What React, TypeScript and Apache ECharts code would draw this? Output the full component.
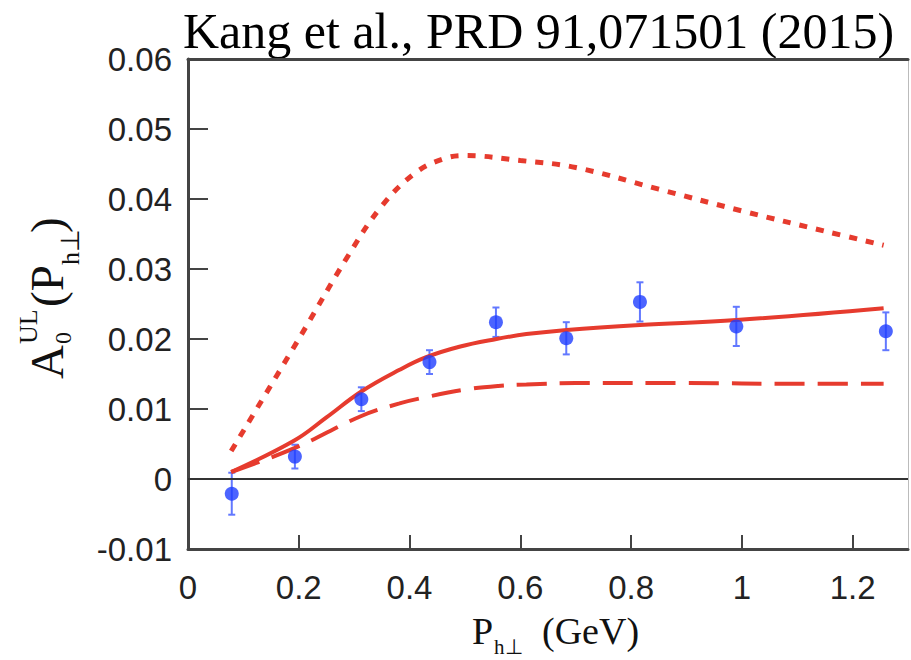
import React, { useEffect, useRef } from "react";
import * as echarts from "echarts";

const xTicks = [0, 0.2, 0.4, 0.6, 0.8, 1, 1.2];
const yTicks = [-0.01, 0, 0.01, 0.02, 0.03, 0.04, 0.05, 0.06];

// dotted theory curve
const dottedCurve: number[][] = [
  [0.078, 0.004], [0.2, 0.02], [0.29, 0.032], [0.35, 0.039], [0.41, 0.0437],
  [0.46, 0.0457], [0.5, 0.0462], [0.6, 0.0455], [0.7, 0.0445], [0.85, 0.0414],
  [1.0, 0.0383], [1.15, 0.0354], [1.256, 0.0334],
];
// solid theory curve
const solidCurve: number[][] = [
  [0.078, 0.001], [0.192, 0.0055], [0.25, 0.0088], [0.313, 0.0125], [0.382, 0.0156],
  [0.43, 0.0174], [0.49, 0.0189], [0.557, 0.02], [0.611, 0.0207], [0.684, 0.0213],
  [0.816, 0.022], [0.99, 0.0227], [1.256, 0.0244],
];
// dashed theory curve
const dashedCurve: number[][] = [
  [0.078, 0.001], [0.192, 0.0044], [0.313, 0.009], [0.382, 0.0108], [0.43, 0.0117],
  [0.503, 0.0128], [0.56, 0.0133], [0.611, 0.0135], [0.7, 0.0137], [0.9, 0.0137],
  [1.1, 0.0136], [1.256, 0.0136],
];
// data points: x, y, error
const dataX = [0.079, 0.193, 0.313, 0.436, 0.556, 0.683, 0.816, 0.99, 1.26];
const dataY = [-0.0021, 0.0032, 0.0114, 0.0167, 0.0224, 0.0201, 0.0253, 0.0218, 0.0211];
const dataErr = [0.003, 0.0017, 0.0017, 0.0017, 0.0021, 0.0023, 0.0028, 0.0028, 0.0027];

const RED = "#e63b2e";
const BLUE = "#1f3dff";
const ERR = "#6278ff";
const SERIF = "'Liberation Serif', 'Times New Roman', serif";
const SANS = "'Liberation Sans', Arial, Helvetica, sans-serif";

export default function App() {
  const ref = useRef<HTMLDivElement>(null);
  useEffect(() => {
    if (!ref.current) return;
    const chart = echarts.init(ref.current, null, { renderer: "svg" });
    const points = dataX.map((x, i) => [x, dataY[i], dataErr[i]]);
    const mid = (baseline: number, fs: number) => baseline - 0.34 * fs;
    const option: any = {
      animation: false,
      backgroundColor: "#fff",
      grid: { left: 188, right: 3, top: 59, bottom: 111 },
      xAxis: [
        {
          type: "value",
          min: 0,
          max: 1.3,
          interval: 0.2,
          position: "bottom",
          axisLine: { show: true, onZero: false, lineStyle: { color: "#444", width: 3 } },
          axisTick: { show: true, inside: true, length: 14, customValues: xTicks, lineStyle: { color: "#444", width: 2 } },
          axisLabel: {
            customValues: xTicks,
            margin: 22,
            fontFamily: SANS,
            fontSize: 33,
            color: "#222",
            formatter: (v: number) => String(Math.round(v * 10) / 10),
          },
          splitLine: { show: false },
        },
        {
          type: "value",
          min: 0,
          max: 1.3,
          position: "top",
          axisLine: { show: true, onZero: false, lineStyle: { color: "#444", width: 3 } },
          axisTick: { show: false },
          axisLabel: { show: false },
          splitLine: { show: false },
        },
      ],
      yAxis: [
        {
          type: "value",
          min: -0.01,
          max: 0.06,
          interval: 0.01,
          position: "left",
          axisLine: { show: true, onZero: false, lineStyle: { color: "#444", width: 3 } },
          axisTick: { show: true, inside: true, length: 20, customValues: yTicks, lineStyle: { color: "#444", width: 2 } },
          axisLabel: {
            customValues: yTicks,
            margin: 16,
            fontFamily: SANS,
            fontSize: 33,
            color: "#222",
            formatter: (v: number) => String(Math.round(v * 100) / 100),
          },
          splitLine: { show: false },
        },
        {
          type: "value",
          min: -0.01,
          max: 0.06,
          position: "right",
          axisLine: { show: true, onZero: false, lineStyle: { color: "#bbb", width: 1 } },
          axisTick: { show: false },
          axisLabel: { show: false },
          splitLine: { show: false },
        },
      ],
      series: [
        {
          type: "line",
          data: [],
          markLine: {
            silent: true,
            symbol: "none",
            label: { show: false },
            lineStyle: { color: "#333", width: 2, type: "solid" },
            data: [{ yAxis: 0 }],
          },
        },
        {
          type: "line",
          data: dottedCurve,
          smooth: 0.4,
          symbol: "none",
          lineStyle: { color: RED, width: 5, type: [8, 9] },
        },
        {
          type: "line",
          data: solidCurve,
          smooth: 0.4,
          symbol: "none",
          lineStyle: { color: RED, width: 4 },
        },
        {
          type: "line",
          data: dashedCurve,
          smooth: 0.4,
          symbol: "none",
          lineStyle: { color: RED, width: 4, type: [30, 13] },
        },
        {
          type: "custom",
          data: points,
          encode: { x: 0, y: 1 },
          renderItem: (params: any, api: any) => {
            const x = api.value(0);
            const y = api.value(1);
            const e = api.value(2);
            const t = api.coord([x, y + e]);
            const b = api.coord([x, y - e]);
            const w = 3.5;
            const st = { stroke: ERR, lineWidth: 2 };
            return {
              type: "group",
              children: [
                { type: "line", shape: { x1: t[0], y1: t[1], x2: b[0], y2: b[1] }, style: st },
                { type: "line", shape: { x1: t[0] - w, y1: t[1], x2: t[0] + w, y2: t[1] }, style: st },
                { type: "line", shape: { x1: b[0] - w, y1: b[1], x2: b[0] + w, y2: b[1] }, style: st },
              ],
            };
          },
          z: 3,
        },
        {
          type: "scatter",
          data: points.map((p) => [p[0], p[1]]),
          symbol: "circle",
          symbolSize: 14,
          itemStyle: { color: BLUE },
          z: 4,
        },
      ],
      graphic: [
        {
          type: "text",
          x: 183,
          y: mid(48, 50),
          style: {
            text: "Kang et al., PRD 91,071501 (2015)",
            font: `50px ${SERIF}`,
            fill: "#000",
            align: "left",
            verticalAlign: "middle",
          },
        },
        {
          type: "group",
          x: 472,
          y: 0,
          children: [
            { type: "text", x: 0, y: mid(644, 38), style: { text: "P", font: `38px ${SERIF}`, fill: "#111", align: "left", verticalAlign: "middle" } },
            { type: "text", x: 22, y: mid(654, 21), style: { text: "h⊥", font: `21px ${SERIF}`, fill: "#111", align: "left", verticalAlign: "middle" } },
            { type: "text", x: 70, y: mid(644, 38), style: { text: "(GeV)", font: `38px ${SERIF}`, fill: "#111", align: "left", verticalAlign: "middle" } },
          ],
        },
        {
          type: "group",
          x: 63,
          y: 379,
          rotation: Math.PI / 2,
          children: [
            { type: "text", x: 0, y: mid(0, 47), style: { text: "A", font: `47px ${SERIF}`, fill: "#111", align: "left", verticalAlign: "middle" } },
            { type: "text", x: 35, y: mid(8, 24), style: { text: "0", font: `24px ${SERIF}`, fill: "#111", align: "left", verticalAlign: "middle" } },
            { type: "text", x: 35, y: mid(-26, 26), style: { text: "UL", font: `26px ${SERIF}`, fill: "#111", align: "left", verticalAlign: "middle" } },
            { type: "text", x: 72, y: mid(0, 47), style: { text: "(P", font: `47px ${SERIF}`, fill: "#111", align: "left", verticalAlign: "middle" } },
            { type: "text", x: 114, y: mid(16, 26), style: { text: "h⊥", font: `26px ${SERIF}`, fill: "#111", align: "left", verticalAlign: "middle" } },
            { type: "text", x: 146, y: mid(0, 47), style: { text: ")", font: `47px ${SERIF}`, fill: "#111", align: "left", verticalAlign: "middle" } },
          ],
        },
      ],
    };
    chart.setOption(option);
    return () => chart.dispose();
  }, []);
  return (
    <div
      ref={ref}
      style={{ position: "fixed", left: 0, top: 0, width: 911, height: 660, background: "#fff" }}
    />
  );
}
